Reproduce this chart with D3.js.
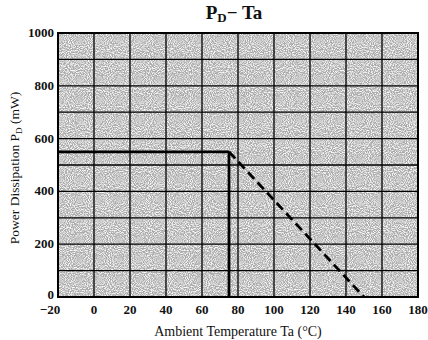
<!DOCTYPE html>
<html>
<head>
<meta charset="utf-8">
<script src="https://cdn.jsdelivr.net/npm/d3@7"></script>
<style>
  body { margin: 0; background: #fff; }
  svg { display: block; }
  text { font-family: "Liberation Serif", "DejaVu Serif", serif; fill: #111; }
</style>
</head>
<body>
<svg id="chart" width="428" height="340"></svg>
<script>
// axis ticks
const xTicks = [-20, 0, 20, 40, 60, 80, 100, 120, 140, 160, 180]
const yTicks = [0, 200, 400, 600, 800, 1000]
const yGrid = [0, 100, 200, 300, 400, 500, 600, 700, 800, 900, 1000]

// derating curve (Ta in degC, PD in mW)
const flatPart = [[-20, 550], [75, 550]]
const cutoffPart = [[75, 550], [75, 0]]
const deratePart = [[75, 550], [150, 0]]

const svg = d3.select('#chart')

const x = d3.scaleLinear().domain([-20, 180]).range([58, 418])
const y = d3.scaleLinear().domain([0, 1000]).range([297, 33])

// speckled grey paper texture
const defs = svg.append('defs')
const f = defs.append('filter')
  .attr('id', 'grain')
  .attr('x', 0).attr('y', 0).attr('width', 1).attr('height', 1)
f.append('feTurbulence')
  .attr('type', 'fractalNoise')
  .attr('baseFrequency', 0.95)
  .attr('numOctaves', 1)
  .attr('seed', 7)
  .attr('result', 'n')
f.append('feColorMatrix')
  .attr('in', 'n')
  .attr('type', 'matrix')
  .attr('values', '0 0 0 0 0.4  0 0 0 0 0.4  0 0 0 0 0.4  3 0 0 0 -0.8')
  .attr('result', 'dots')
f.append('feFlood').attr('flood-color', '#fff').attr('result', 'w')
f.append('feComposite').attr('in', 'dots').attr('in2', 'w').attr('operator', 'over')

svg.append('rect')
  .attr('x', x(-20)).attr('y', y(1000))
  .attr('width', x(180) - x(-20))
  .attr('height', y(0) - y(1000))
  .attr('fill', '#fff')
  .attr('filter', 'url(#grain)')

// grid
const grid = svg.append('g').attr('stroke', '#000').attr('stroke-width', 1.3)
grid.selectAll('.vl').data(xTicks).join('line')
  .attr('x1', (d) => x(d)).attr('x2', (d) => x(d))
  .attr('y1', y(0)).attr('y2', y(1000))
grid.selectAll('.hl').data(yGrid).join('line')
  .attr('x1', x(-20)).attr('x2', x(180))
  .attr('y1', (d) => y(d)).attr('y2', (d) => y(d))

// frame
svg.append('rect')
  .attr('x', x(-20)).attr('y', y(1000))
  .attr('width', x(180) - x(-20))
  .attr('height', y(0) - y(1000))
  .attr('fill', 'none')
  .attr('stroke', '#000')
  .attr('stroke-width', 2)

// curve
const line = d3.line()
  .x((d) => x(d[0]))
  .y((d) => y(d[1]))

const curves = svg.append('g')
  .attr('fill', 'none')
  .attr('stroke', '#000')
  .attr('stroke-width', 2.8)

curves.append('path').datum(flatPart).attr('d', line)
curves.append('path').datum(cutoffPart).attr('d', line)
curves.append('path').datum(deratePart).attr('d', line)
  .attr('stroke-dasharray', '9,5')

// tick labels
svg.append('g').selectAll('text').data(xTicks).join('text')
  .attr('x', (d) => d < 0 ? x(d) - 8 : x(d))
  .attr('y', 314)
  .attr('text-anchor', 'middle')
  .style('font-size', '13px')
  .style('font-weight', 'bold')
  .text((d) => d < 0 ? '\u2212' + Math.abs(d) : d)

svg.append('g').selectAll('text').data(yTicks).join('text')
  .attr('x', 54)
  .attr('y', (d) => d === 0 ? y(d) + 2 : y(d) + 4)
  .attr('text-anchor', 'end')
  .style('font-size', '13px')
  .style('font-weight', 'bold')
  .text((d) => d)

// title
const title = svg.append('text')
  .attr('x', 234)
  .attr('y', 19)
  .attr('text-anchor', 'middle')
  .style('font-size', '19px')
  .style('font-weight', 'bold')
title.append('tspan').text('P')
title.append('tspan').attr('dy', 3).style('font-size', '13px').text('D')
title.append('tspan').attr('dy', -3).text('\u2212 Ta')

// axis titles
svg.append('text')
  .attr('x', 238)
  .attr('y', 336)
  .attr('text-anchor', 'middle')
  .style('font-size', '14px')
  .text('Ambient Temperature Ta (\u00b0C)')

const yt = svg.append('text')
  .attr('transform', 'translate(19,168) rotate(-90)')
  .attr('text-anchor', 'middle')
  .style('font-size', '13.5px')
yt.append('tspan').text('Power Dissipation P')
yt.append('tspan').attr('dy', 3).style('font-size', '9px').text('D')
yt.append('tspan').attr('dy', -3).text(' (mW)')
</script>
</body>
</html>
